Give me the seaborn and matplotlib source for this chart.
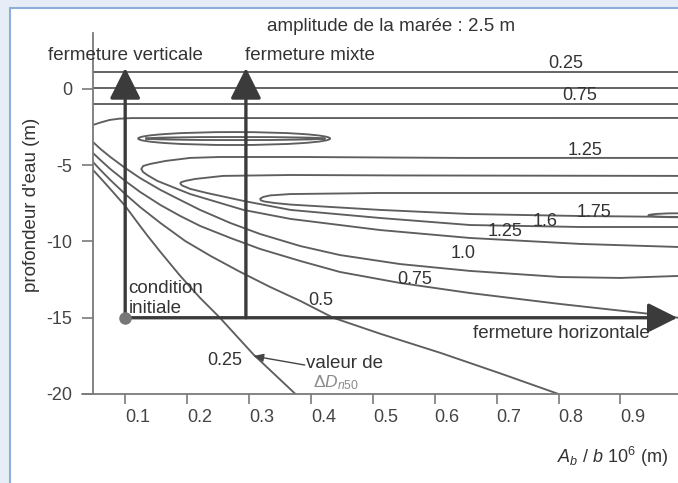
import matplotlib
matplotlib.use("Agg")
import matplotlib.pyplot as plt
import numpy as np
import pandas as pd
import seaborn as sns
from matplotlib.patches import Ellipse, Rectangle
from matplotlib.lines import Line2D

sns.set_theme(style="white")
plt.rcParams["font.family"] = ["Liberation Sans", "DejaVu Sans"]
plt.rcParams["mathtext.fontset"] = "custom"
plt.rcParams["mathtext.rm"] = "Liberation Sans"
plt.rcParams["mathtext.it"] = "Liberation Sans:italic"

# ---------------- data ----------------
xtick_vals = [0.1, 0.2, 0.3, 0.4, 0.5, 0.6, 0.7, 0.8, 0.9]
xtick_labels = ["0.1", "0.2", "0.3", "0.4", "0.5", "0.6", "0.7", "0.8", "0.9"]
ytick_vals = [0, -5, -10, -15, -20]
ytick_labels = ["0", "-5", "-10", "-15", "-20"]

top025_x = [0.048, 0.993]
top025_y = [1.11, 1.11]
top050_x = [0.030, 0.993]
top050_y = [0.05, 0.05]
top075_x = [0.048, 0.993]
top075_y = [-0.98, -0.98]
top100_x = [0.048, 0.060, 0.075, 0.090, 0.110, 0.993]
top100_y = [-2.36, -2.20, -2.03, -1.95, -1.91, -1.90]

c125_x = [0.993, 0.641, 0.383, 0.253, 0.205, 0.165, 0.140, 0.129, 0.126, 0.129, 0.136,
          0.152, 0.205, 0.291, 0.367, 0.512, 0.657, 0.835, 0.993]
c125_y = [-4.52, -4.52, -4.46, -4.46, -4.52, -4.72, -4.92, -5.05, -5.25, -5.45, -5.65,
          -6.03, -6.89, -7.93, -8.52, -9.25, -9.77, -10.16, -10.36]

c160_x = [0.993, 0.544, 0.367, 0.258, 0.213, 0.197, 0.190, 0.189, 0.192, 0.205, 0.232,
          0.291, 0.367, 0.512, 0.657, 0.835, 0.993]
c160_y = [-5.70, -5.67, -5.64, -5.70, -5.90, -6.03, -6.12, -6.20, -6.33, -6.55, -6.82,
          -7.34, -7.93, -8.46, -8.92, -9.05, -9.05]

c175_x = [0.993, 0.512, 0.367, 0.334, 0.323, 0.318, 0.319, 0.325, 0.342, 0.367, 0.512,
          0.657, 0.835, 0.993]
c175_y = [-6.82, -6.82, -6.89, -6.98, -7.08, -7.20, -7.30, -7.38, -7.48, -7.58, -7.93,
          -8.20, -8.33, -8.39]

c100_x = [0.048, 0.060, 0.076, 0.100, 0.124, 0.157, 0.189, 0.221, 0.270, 0.318, 0.383,
          0.447, 0.544, 0.657, 0.803, 0.900, 0.993]
c100_y = [-3.48, -3.93, -4.46, -5.18, -5.84, -6.62, -7.28, -7.93, -8.79, -9.51, -10.30,
          -10.89, -11.48, -11.93, -12.33, -12.39, -12.26]

c075_x = [0.048, 0.060, 0.076, 0.100, 0.124, 0.157, 0.189, 0.221, 0.270, 0.318, 0.383,
          0.447, 0.544, 0.657, 0.803, 0.948, 0.993]
c075_y = [-4.20, -4.66, -5.25, -6.03, -6.75, -7.61, -8.33, -8.98, -9.77, -10.49, -11.28,
          -12.00, -12.72, -13.38, -14.10, -14.75, -15.0]

c050_x = [0.048, 0.060, 0.076, 0.100, 0.124, 0.157, 0.197, 0.238, 0.286, 0.334, 0.383,
          0.436, 0.512, 0.609, 0.706, 0.800]
c050_y = [-4.79, -5.31, -5.97, -6.89, -7.74, -8.79, -9.97, -10.95, -12.00, -12.98, -13.90,
          -15.00, -16.05, -17.30, -18.65, -20.0]

c025_x = [0.048, 0.060, 0.076, 0.100, 0.124, 0.136, 0.157, 0.189, 0.221, 0.253, 0.307, 0.375]
c025_y = [-5.31, -5.84, -6.56, -7.67, -8.98, -9.62, -10.69, -12.26, -13.70, -15.00, -17.40, -20.0]

# closed contours: centre x, centre y, width, height
ell_cx = [0.276, 0.278, 0.998]
ell_cy = [-3.25, -3.25, -8.28]
ell_w = [0.310, 0.291, 0.105]
ell_h = [0.85, 0.20, 0.26]

# contour value labels
lab_text = ["0.25", "0.75", "1.25", "1.75", "1.6", "1.25", "1.0", "0.75", "0.5", "0.25"]
lab_x = [0.783, 0.806, 0.814, 0.830, 0.758, 0.685, 0.625, 0.539, 0.396, 0.232]
lab_y = [1.38, -0.72, -4.33, -8.39, -8.98, -9.64, -11.08, -12.79, -14.16, -18.10]

# closure arrows
start_x, start_y = 0.1, -15.0
vert_arrow_x = [0.1, 0.295]
vert_arrow_top = 1.38
horiz_arrow_end = 0.992

curves = {
    "t025": (top025_x, top025_y), "t050": (top050_x, top050_y),
    "t075": (top075_x, top075_y), "t100": (top100_x, top100_y),
    "c125": (c125_x, c125_y), "c160": (c160_x, c160_y), "c175": (c175_x, c175_y),
    "c100": (c100_x, c100_y), "c075": (c075_x, c075_y),
    "c050": (c050_x, c050_y), "c025": (c025_x, c025_y),
}
rows = []
for name, (xs, ys) in curves.items():
    for i, (xv, yv) in enumerate(zip(xs, ys)):
        rows.append({"curve": name, "order": i, "x": xv, "y": yv})
df = pd.DataFrame(rows)

# ---------------- figure ----------------
W, H = 678, 483
fig = plt.figure(figsize=(W / 100, H / 100), dpi=100)
fig.patch.set_facecolor("#e6edf6")
fig.add_artist(Rectangle((10 / W, 0), 1, 1 - 8 / H, transform=fig.transFigure,
                         facecolor="white", edgecolor="none", zorder=-5))
fig.add_artist(Line2D([10 / W, 1], [1 - 8 / H, 1 - 8 / H], transform=fig.transFigure,
                      color="#8daedb", lw=1.5))
fig.add_artist(Line2D([10 / W, 10 / W], [0, 1 - 8 / H], transform=fig.transFigure,
                      color="#8daedb", lw=1.5))

ax = fig.add_axes([93 / W, 89 / H, 1 - 93 / W, (394 - 33) / H])
ax.set_facecolor("none")

line_col = "#5e5e5e"
sns.lineplot(data=df, x="x", y="y", units="curve", estimator=None, sort=False,
             color=line_col, lw=1.35, ax=ax, legend=False)

for cx, cy, w, h in zip(ell_cx, ell_cy, ell_w, ell_h):
    ax.add_patch(Ellipse((cx, cy), w, h, fill=False, edgecolor=line_col, lw=1.35))

ax.set_xlim(0.048, 0.993)
ax.set_ylim(-20, 3.67)

ax.set_xticks(xtick_vals)
ax.set_xticklabels(xtick_labels)
ax.set_yticks(ytick_vals)
ax.set_yticklabels(ytick_labels)
ax.set_xlabel("")
ax.set_ylabel("")
for s in ["top", "right"]:
    ax.spines[s].set_visible(False)
for s in ["left", "bottom"]:
    ax.spines[s].set_color("#7a7a7a")
    ax.spines[s].set_linewidth(1.3)
ax.tick_params(axis="y", direction="out", length=8, width=1.2, color="#7a7a7a",
               labelsize=13, labelcolor="#444444", pad=7, left=True)
ax.tick_params(axis="x", direction="out", length=7, width=1.2, color="#7a7a7a",
               labelsize=13, labelcolor="#444444", pad=4, bottom=True)
for t in ax.get_xticklabels():
    t.set_horizontalalignment("left")
ax.add_line(Line2D([-11 / 585, 0], [0, 0], transform=ax.transAxes, color="#7a7a7a",
                   lw=1.3, clip_on=False))

# arrows
arr_col = "#3b3b3b"
for vx in vert_arrow_x:
    ax.annotate("", xy=(vx, vert_arrow_top), xytext=(vx, start_y),
                arrowprops=dict(arrowstyle="-|>,head_length=1.0,head_width=0.5",
                                mutation_scale=19, lw=2.4, color=arr_col,
                                shrinkA=0, shrinkB=0), annotation_clip=False)
ax.annotate("", xy=(horiz_arrow_end, start_y), xytext=(start_x - 0.002, start_y),
            arrowprops=dict(arrowstyle="-|>,head_length=1.0,head_width=0.5",
                            mutation_scale=18, lw=2.4, color=arr_col,
                            shrinkA=0, shrinkB=0), annotation_clip=False)
ax.plot([start_x], [start_y], "o", color="#777777", ms=8, zorder=5, clip_on=False)

# texts
tc = "#333333"
fs = 13.5
ax.text(0.530, 3.80, "amplitude de la marée : 2.5 m", ha="center", va="baseline",
        fontsize=fs, color=tc)
ax.text(0.100, 1.90, "fermeture verticale", ha="center", va="baseline", fontsize=fs, color=tc)
ax.text(0.294, 1.90, "fermeture mixte", ha="left", va="baseline", fontsize=fs, color=tc)
ax.text(0.662, -16.33, "fermeture horizontale", ha="left", va="baseline", fontsize=fs, color=tc)
ax.text(0.105, -13.38, "condition", ha="left", va="baseline", fontsize=fs, color=tc)
ax.text(0.105, -14.69, "initiale", ha="left", va="baseline", fontsize=fs, color=tc)
for t, lx, ly in zip(lab_text, lab_x, lab_y):
    ax.text(lx, ly, t, ha="left", va="baseline", fontsize=13, color=tc)

ax.text(0.392, -18.30, "valeur de", ha="left", va="baseline", fontsize=fs, color=tc)
ax.text(0.404, -19.54, r"$\mathit{\Delta D}_{n50}$", ha="left", va="baseline",
        fontsize=12.5, color="#8a8a8a")
ax.annotate("", xy=(0.307, -17.51), xytext=(0.390, -18.10),
            arrowprops=dict(arrowstyle="-|>,head_length=0.5,head_width=0.2",
                            mutation_scale=12, lw=1.0, color="#444444",
                            shrinkA=0, shrinkB=0))

ax.text(0.798, -24.5, r"$A_b$ / $b$ 10$^6$ (m)", ha="left", va="baseline",
        fontsize=13, color=tc)
ax.text(-0.052, -7.57, "profondeur d'eau (m)", rotation=90, ha="center", va="center",
        fontsize=fs, color=tc)

fig.savefig("out.png", dpi=100, facecolor=fig.get_facecolor())
